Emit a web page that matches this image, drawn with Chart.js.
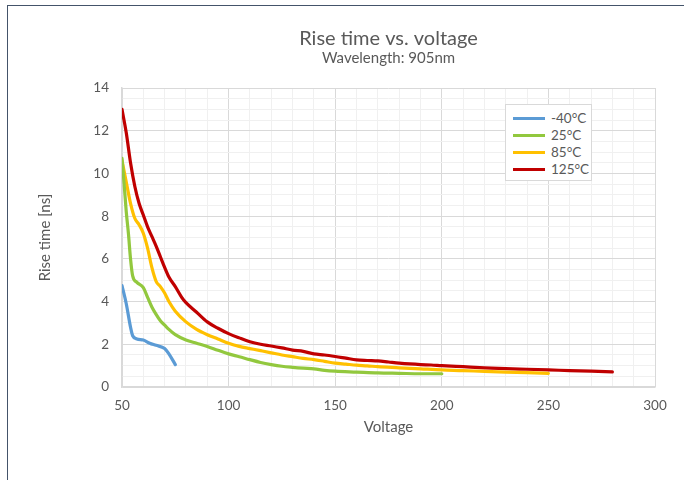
<!DOCTYPE html>
<html>
<head>
<meta charset="utf-8">
<script src="https://cdn.jsdelivr.net/npm/chart.js@4.4.1/dist/chart.umd.min.js"></script>
<style>
  html, body { margin: 0; padding: 0; background: #ffffff; }
  #wrap { position: relative; width: 684px; height: 480px; overflow: hidden; }
  #frame { position: absolute; left: 7px; top: 5px; width: 700px; height: 500px;
           border-top: 1px solid #44546a; border-left: 1px solid #44546a; }
  canvas { position: absolute; left: 0; top: 0; }
  #legend { position: absolute; left: 505px; top: 104px; width: 87px; height: 77px;
            background: #fff; border: 1px solid #d9d9d9; box-sizing: border-box;
            font-family: Lato, "Open Sans", sans-serif; font-size: 13.5px; color: #595959; }
  .row { position: absolute; left: 0; height: 17px; line-height: 17px; }
  .sw { position: absolute; left: 7px; top: 7px; width: 32px; height: 3px; }
  .lb { position: absolute; left: 45px; top: 0; white-space: nowrap; }
</style>
</head>
<body>
<div id="wrap">
  <div id="frame"></div>
  <canvas id="c" width="684" height="480"></canvas>
  <div id="legend"></div>
</div>
<script>
// ---- data ----
const seriesNames = ['-40°C', '25°C', '85°C', '125°C'];
const seriesColors = ['#5b9bd5', '#92c83e', '#ffc000', '#c00000'];

const voltsM40 = [50, 52, 54, 55, 57, 60, 63, 66, 70, 72, 75];
const riseM40  = [4.75, 3.9, 2.8, 2.4, 2.25, 2.2, 2.05, 1.95, 1.8, 1.55, 1.05];

const volts25 = [50, 51, 52, 53, 54, 55, 57, 60, 62, 64, 66, 68, 70, 72, 75, 80, 85, 90, 95, 100,
                 105, 110, 115, 120, 125, 130, 135, 140, 145, 150, 160, 170, 180, 190, 200];
const rise25  = [10.7, 9.5, 8.2, 7.2, 6.0, 5.2, 4.9, 4.65, 4.2, 3.75, 3.4, 3.1, 2.9, 2.7, 2.45, 2.2, 2.05, 1.9, 1.72, 1.55,
                 1.42, 1.28, 1.15, 1.05, 0.97, 0.92, 0.88, 0.85, 0.78, 0.74, 0.7, 0.66, 0.64, 0.62, 0.62];

const volts85 = [50, 52, 54, 56, 58, 60, 62, 64, 66, 68, 70, 72, 75, 80, 85, 90, 95, 100,
                 105, 110, 115, 120, 125, 130, 135, 140, 145, 150, 155, 160, 165, 170, 180, 190, 200,
                 210, 220, 230, 240, 250];
const rise85  = [10.6, 9.6, 8.6, 7.9, 7.6, 7.2, 6.5, 5.6, 4.95, 4.7, 4.4, 4.0, 3.55, 3.05, 2.7, 2.45, 2.25, 2.05,
                 1.9, 1.8, 1.7, 1.6, 1.5, 1.42, 1.34, 1.28, 1.2, 1.12, 1.07, 1.02, 0.99, 0.95, 0.9, 0.85, 0.8,
                 0.77, 0.73, 0.7, 0.67, 0.64];

const volts125 = [50, 52, 54, 56, 58, 60, 62, 64, 66, 68, 70, 72, 75, 78, 80, 85, 90, 95, 100,
                  105, 110, 115, 120, 125, 130, 135, 140, 145, 150, 155, 160, 165, 170, 175, 180, 185, 190, 195, 200,
                  210, 220, 230, 240, 250, 260, 270, 280];
const rise125  = [13.0, 11.9, 10.5, 9.4, 8.6, 8.05, 7.5, 7.05, 6.6, 6.1, 5.6, 5.15, 4.7, 4.2, 3.95, 3.5, 3.05, 2.75, 2.5,
                  2.3, 2.12, 2.0, 1.92, 1.83, 1.73, 1.67, 1.55, 1.5, 1.43, 1.35, 1.27, 1.24, 1.22, 1.17, 1.12, 1.08, 1.05, 1.03, 1.0,
                  0.95, 0.9, 0.86, 0.83, 0.8, 0.77, 0.74, 0.71];

const xTickMin = 50, xTickMax = 300, xMajor = 50, xMinor = 10;
const yTickMin = 0, yTickMax = 14, yMajor = 2, yMinor = 0.5;

const titleText = 'Rise time vs. voltage';
const subtitleText = 'Wavelength: 905nm';
const xTitle = 'Voltage';
const yTitle = 'Rise time [ns]';

// ---- build ----
const allVolts = [voltsM40, volts25, volts85, volts125];
const allRise = [riseM40, rise25, rise85, rise125];
const datasets = seriesNames.map((name, i) => ({
  label: name,
  data: allVolts[i].map((v, j) => ({ x: v, y: allRise[i][j] })),
  borderColor: seriesColors[i],
  backgroundColor: seriesColors[i],
  borderWidth: 3.2,
  pointRadius: 0,
  fill: false,
  cubicInterpolationMode: 'monotone',
  borderCapStyle: 'round',
  borderJoinStyle: 'round'
}));

const FONT = 'Lato, "Open Sans", sans-serif';
const TXT = '#595959';
const MAJ = '#d9d9d9', MIN = '#f0f0f0';

new Chart(document.getElementById('c'), {
  type: 'line',
  data: { datasets },
  options: {
    responsive: false,
    animation: false,
    layout: { padding: { left: 20, right: 29, top: 0, bottom: 0 } },
    plugins: {
      legend: { display: false },
      tooltip: { enabled: false },
      title: {
        display: true, text: titleText, fullSize: false, color: TXT,
        font: { family: FONT, size: 20, weight: 'normal', lineHeight: 1.2 },
        padding: { top: 27, bottom: 0 }
      },
      subtitle: {
        display: true, text: subtitleText, fullSize: false, color: TXT,
        font: { family: FONT, size: 15, weight: 'normal', lineHeight: 1.0 },
        padding: { top: 0, bottom: 22 }
      }
    },
    scales: {
      x: {
        type: 'linear', min: xTickMin, max: xTickMax,
        afterFit: s => { s.height = 93; },
        ticks: {
          stepSize: xMinor, autoSkip: false, maxRotation: 0, padding: 11,
          color: TXT, font: { family: FONT, size: 13.5 },
          callback: v => (v % xMajor === 0 ? v : '')
        },
        grid: {
          drawTicks: false,
          color: c => (c.tick && c.tick.value % xMajor === 0 ? MAJ : MIN),
          lineWidth: 1
        },
        border: { display: true, color: MAJ, width: 1.5 },
        title: {
          display: true, text: xTitle, color: TXT,
          font: { family: FONT, size: 15, lineHeight: 1.2 },
          padding: { top: 0, bottom: 44 }
        }
      },
      y: {
        type: 'linear', min: yTickMin, max: yTickMax,
        afterFit: s => { s.width = 102; },
        ticks: {
          stepSize: yMinor, autoSkip: false, padding: 13,
          color: TXT, font: { family: FONT, size: 13.5 },
          callback: v => (v % yMajor === 0 ? v : '')
        },
        grid: {
          drawTicks: false,
          color: c => (c.tick && c.tick.value % yMajor === 0 ? MAJ : MIN),
          lineWidth: 1
        },
        border: { display: true, color: MAJ, width: 1.5 },
        title: {
          display: true, text: yTitle, color: TXT,
          font: { family: FONT, size: 15, lineHeight: 1.2 },
          padding: { top: 16, bottom: 0 }
        }
      }
    }
  }
});

// HTML legend from the same series arrays
const leg = document.getElementById('legend');
seriesNames.forEach((name, i) => {
  const row = document.createElement('div');
  row.className = 'row';
  row.style.top = (5 + i * 17) + 'px';
  row.style.width = '100%';
  const sw = document.createElement('div');
  sw.className = 'sw';
  sw.style.background = seriesColors[i];
  const lb = document.createElement('div');
  lb.className = 'lb';
  lb.textContent = name;
  row.appendChild(sw); row.appendChild(lb);
  leg.appendChild(row);
});
</script>
</body>
</html>
